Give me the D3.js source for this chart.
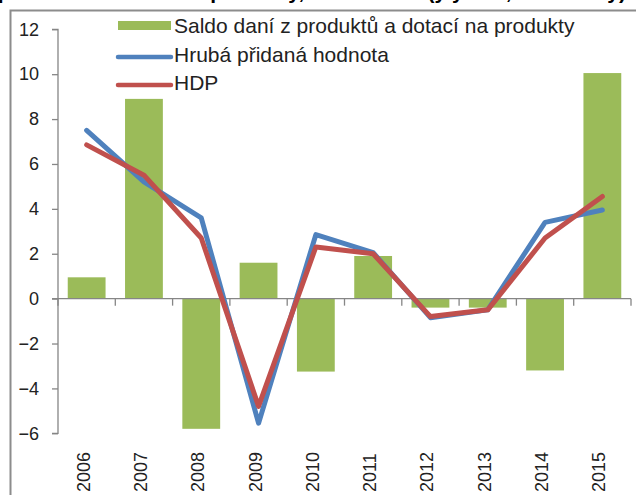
<!DOCTYPE html>
<html>
<head>
<meta charset="utf-8">
<script src="https://cdn.jsdelivr.net/npm/d3@7/dist/d3.min.js"></script>
<style>
  body { margin: 0; background: #fff; }
  svg { display: block; font-family: "Liberation Sans", Arial, sans-serif; }
</style>
</head>
<body>
<svg id="chart" width="636" height="495"></svg>
<script>
var years = ['2006', '2007', '2008', '2009', '2010', '2011', '2012', '2013', '2014', '2015'];
var saldo = [0.95, 8.9, -5.8, 1.6, -3.25, 1.9, -0.4, -0.4, -3.2, 10.05];
var hph = [7.5, 5.2, 3.6, -5.55, 2.85, 2.05, -0.85, -0.5, 3.4, 3.95];
var hdp = [6.85, 5.5, 2.7, -4.8, 2.3, 2.0, -0.8, -0.5, 2.7, 4.55];
var yTicks = [-6, -4, -2, 0, 2, 4, 6, 8, 10, 12];
var legendNames = ['Saldo daní z produktů a dotací na produkty', 'Hrubá přidaná hodnota', 'HDP'];
var titleText = 'Graf 4  Příspěvky daní z produktů a dotací na produkty, HPH a HDP (y/y v %, stálé ceny)';

var svg = d3.select('#chart');
var axisColor = '#868686';
var colors = { saldo: '#9bbb59', hph: '#4f81bd', hdp: '#c0504d' };

var x = d3.scaleBand().domain(years).range([58, 631]).padding(0);
var y = d3.scaleLinear().domain([-6, 12]).range([433.3, 29.3]);

// title (cut off by the top edge, as in the source)
svg.append('text')
  .attr('x', 626).attr('y', -1.5)
  .attr('text-anchor', 'end')
  .attr('font-size', 21).attr('font-weight', 'bold')
  .attr('fill', '#000')
  .text(titleText);
svg.append('path')
  .attr('d', 'M10.5,495V10.5H636')
  .attr('fill', 'none').attr('stroke', '#8c8c8c').attr('stroke-width', 2);

// bars
var barW = x.bandwidth() * 0.66;
svg.append('g').selectAll('rect')
  .data(saldo)
  .enter().append('rect')
    .attr('x', (d, i) => x(years[i]) + (x.bandwidth() - barW) / 2)
    .attr('y', d => y(Math.max(0, d)))
    .attr('width', barW)
    .attr('height', d => Math.abs(y(d) - y(0)))
    .attr('fill', colors.saldo);

// y axis
var yAxis = svg.append('g')
  .attr('transform', 'translate(58,0)')
  .call(d3.axisLeft(y).tickValues(yTicks).tickSize(6).tickPadding(13).tickFormat(d3.format('d')));
yAxis.select('.domain').attr('stroke', axisColor).attr('stroke-width', 1.3)
  .attr('d', 'M-6,' + y(12) + 'H0V' + y(-6) + 'H-6');
yAxis.selectAll('.tick line').attr('stroke', axisColor).attr('stroke-width', 1.3);
yAxis.selectAll('.tick text')
  .attr('font-size', 18).attr('fill', '#222')
  .attr('font-family', '"Liberation Sans", Arial, sans-serif');

// x axis at zero
var xg = svg.append('g');
xg.append('line')
  .attr('x1', 52).attr('x2', 631)
  .attr('y1', y(0)).attr('y2', y(0))
  .attr('stroke', axisColor).attr('stroke-width', 1.3);
xg.selectAll('.xtick')
  .data(years.concat(['end']))
  .enter().append('line')
    .attr('x1', (d, i) => i < years.length ? x(d) : x.range()[1])
    .attr('x2', (d, i) => i < years.length ? x(d) : x.range()[1])
    .attr('y1', y(0)).attr('y2', y(0) + 7)
    .attr('stroke', axisColor).attr('stroke-width', 1.3);
xg.selectAll('.xlab')
  .data(years)
  .enter().append('text')
    .attr('transform', d => 'translate(' + (x(d) + x.bandwidth() / 2 + 3) + ',492) rotate(-90)')
    .attr('font-size', 18).attr('fill', '#222')
    .text(d => d);

// lines
var line = d3.line()
  .x((d, i) => x(years[i]) + x.bandwidth() / 2)
  .y(d => y(d));
[['hph', hph], ['hdp', hdp]].forEach(s => {
  svg.append('path')
    .datum(s[1])
    .attr('d', line)
    .attr('fill', 'none')
    .attr('stroke', colors[s[0]])
    .attr('stroke-width', 5)
    .attr('stroke-linejoin', 'round')
    .attr('stroke-linecap', 'round');
});

// legend
var legend = svg.append('g');
legend.append('rect')
  .attr('x', 118).attr('y', 21).attr('width', 53).attr('height', 9)
  .attr('fill', colors.saldo);
legend.append('line')
  .attr('x1', 118).attr('x2', 171).attr('y1', 57).attr('y2', 57)
  .attr('stroke', colors.hph).attr('stroke-width', 4.5).attr('stroke-linecap', 'round');
legend.append('line')
  .attr('x1', 118).attr('x2', 171).attr('y1', 85).attr('y2', 85)
  .attr('stroke', colors.hdp).attr('stroke-width', 4.5).attr('stroke-linecap', 'round');
legend.selectAll('.lt')
  .data(legendNames)
  .enter().append('text')
    .attr('x', 174)
    .attr('y', (d, i) => 33 + i * 28.5)
    .attr('font-size', 21).attr('fill', '#222')
    .text(d => d);
</script>
</body>
</html>
